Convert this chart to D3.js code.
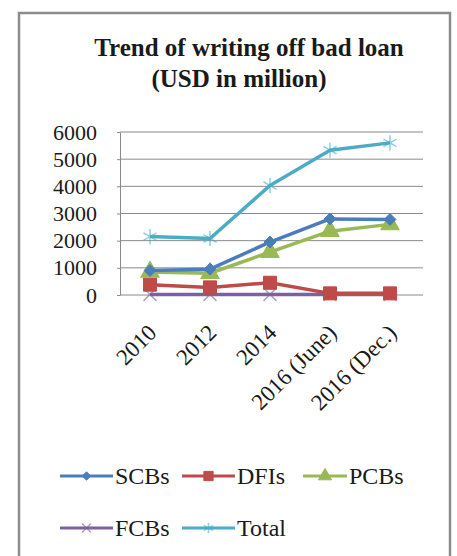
<!doctype html>
<html>
<head>
<meta charset="utf-8">
<script src="https://d3js.org/d3.v7.min.js"></script>
<style>
  body { margin: 0; background: #fff; }
  svg text { fill: #1a1a1a; }
</style>
</head>
<body>
<svg width="457" height="556"></svg>
<script>
var categories = ["2010", "2012", "2014", "2016 (June)", "2016 (Dec.)"]
var scbs  = [900, 950, 1950, 2800, 2780]
var dfis  = [380, 280, 450, 60, 60]
var pcbs  = [850, 800, 1580, 2350, 2600]
var fcbs  = [20, 20, 20, 20, 20]
var total = [2150, 2080, 4030, 5330, 5600]
var y_ticks = [0, 1000, 2000, 3000, 4000, 5000, 6000]

var series = [
    {name: "SCBs",  values: scbs,  color: "#4A7EBB", marker: "diamond"},
    {name: "DFIs",  values: dfis,  color: "#BE4B48", marker: "square"},
    {name: "PCBs",  values: pcbs,  color: "#98B954", marker: "triangle"},
    {name: "FCBs",  values: fcbs,  color: "#7D60A0", marker: "cross"},
    {name: "Total", values: total, color: "#4BACC6", marker: "star"}
]

var serif = "'Liberation Serif', 'DejaVu Serif', serif"
var svg = d3.select("svg")

// outer frame
svg.append("rect")
    .attr("x", 19).attr("y", 13)
    .attr("width", 431).attr("height", 560)
    .attr("fill", "none").attr("stroke", "#8c8c8c").attr("stroke-width", 2.5)

svg.append("text")
    .attr("x", 249).attr("y", 56)
    .attr("text-anchor", "middle").attr("font-size", "25px").attr("font-weight", "bold")
    .style("font-family", serif)
    .text("Trend of writing off bad loan")
svg.append("text")
    .attr("x", 239).attr("y", 87)
    .attr("text-anchor", "middle").attr("font-size", "25px").attr("font-weight", "bold")
    .style("font-family", serif)
    .text("(USD in million)")

var x = d3.scalePoint().domain(categories).range([120, 420]).padding(0.5)
var y = d3.scaleLinear().domain([0, 6000]).range([295, 132])

// grid lines
svg.selectAll(".grid")
    .data(y_ticks.filter(function (d) { return d > 0; }))
    .enter().append("line")
    .attr("x1", 120).attr("x2", 423)
    .attr("y1", function (d) { return y(d); }).attr("y2", function (d) { return y(d); })
    .attr("stroke", "#8a8a8a").attr("stroke-width", 1)

var y_axis = svg.append("g")
    .attr("transform", "translate(120,0)")
    .call(d3.axisLeft(y).tickValues(y_ticks).tickFormat(d3.format("d"))
        .tickSize(3).tickPadding(20).tickSizeOuter(0))
y_axis.select(".domain").attr("stroke", "#8a8a8a")
y_axis.selectAll("line").attr("stroke", "#8a8a8a")
y_axis.selectAll("text").attr("font-size", "22px").attr("fill", "#1a1a1a").style("font-family", serif)

svg.append("line")
    .attr("x1", 120).attr("x2", 423).attr("y1", y(0)).attr("y2", y(0))
    .attr("stroke", "#8a8a8a").attr("stroke-width", 1)

// x labels, rotated
svg.selectAll(".xlab")
    .data(categories)
    .enter().append("text")
    .attr("transform", function (d) { return "translate(" + (x(d) + 8) + ",334) rotate(-45)"; })
    .attr("text-anchor", "end").attr("font-size", "23px").style("font-family", serif)
    .text(function (d) { return d; })

function marker_path(type, scale) {
    var s = {diamond: 90, square: 170, triangle: 150, cross: 110, star: 160}[type] * scale
    if (type === "diamond") return d3.symbol().type(d3.symbolDiamond2).size(s)()
    if (type === "square") return d3.symbol().type(d3.symbolSquare).size(s)()
    if (type === "triangle") return d3.symbol().type(d3.symbolTriangle).size(s)()
    if (type === "cross") return d3.symbol().type(d3.symbolX).size(s)()
    return d3.symbol().type(d3.symbolAsterisk).size(s)()
}

function draw_marker(g, s, px, py, scale) {
    var stroke_only = (s.marker === "cross" || s.marker === "star")
    g.append("path")
        .attr("d", marker_path(s.marker, scale))
        .attr("transform", "translate(" + px + "," + py + ")")
        .attr("fill", stroke_only ? "none" : s.color)
        .attr("stroke", s.color)
        .attr("stroke-width", stroke_only ? 1.5 : 1)
        .attr("opacity", stroke_only ? 0.6 : 1)
}

var line = d3.line()
    .x(function (d, i) { return x(categories[i]); })
    .y(function (d) { return y(d); })

// draw FCBs first so it sits under the others, Total last
var order = [3, 1, 2, 0, 4]
order.forEach(function (k) {
    var s = series[k]
    var g = svg.append("g")
    g.append("path")
        .attr("d", line(s.values))
        .attr("fill", "none").attr("stroke", s.color).attr("stroke-width", 3.5)
        .attr("stroke-linejoin", "round")
    s.values.forEach(function (v, i) {
        draw_marker(g, s, x(categories[i]), y(v), 1)
    })
})

// legend
var legend_pos = [[60, 476], [182, 476], [303, 476], [60, 528], [182, 528]]
series.forEach(function (s, i) {
    var lx = legend_pos[i][0], ly = legend_pos[i][1]
    var g = svg.append("g")
    var w = (i === 2) ? 44 : 53
    g.append("line")
        .attr("x1", lx).attr("x2", lx + w).attr("y1", ly).attr("y2", ly)
        .attr("stroke", s.color).attr("stroke-width", 3)
    draw_marker(g, s, lx + w / 2, ly, 0.5)
    g.append("text")
        .attr("x", lx + w + 2).attr("y", ly + 8)
        .attr("font-size", "24px").style("font-family", serif)
        .text(s.name)
})
</script>
</body>
</html>
